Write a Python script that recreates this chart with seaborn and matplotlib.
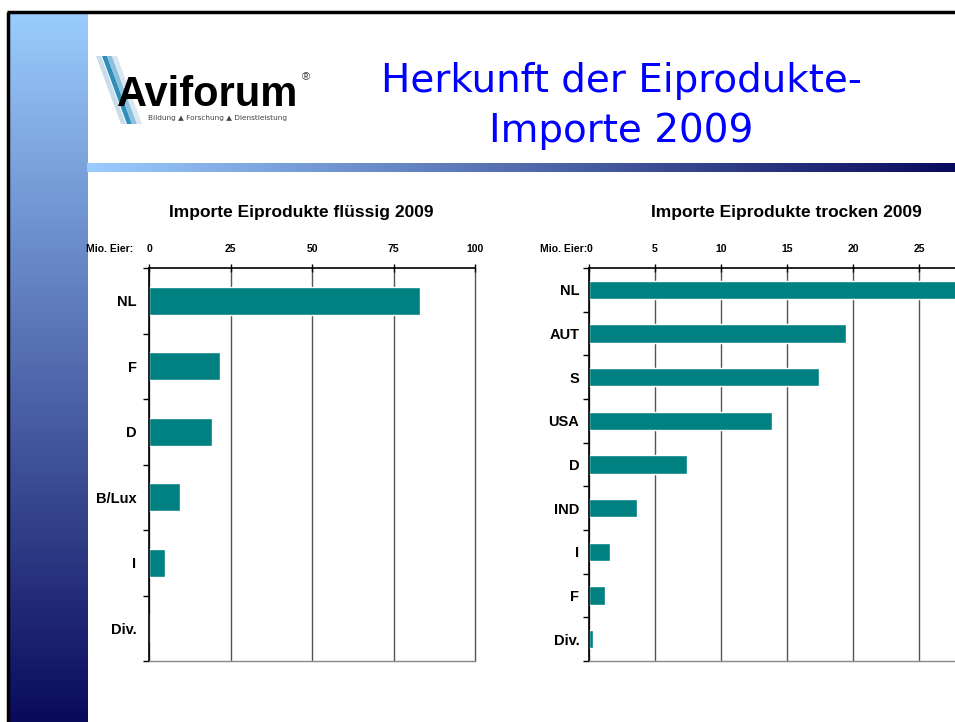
import matplotlib
matplotlib.use("Agg")
import matplotlib.pyplot as plt
import numpy as np
import seaborn as sns
from matplotlib.colors import LinearSegmentedColormap
from matplotlib.ticker import FixedLocator

# data (Mio. Eier)
cat_fluessig = ["NL", "F", "D", "B/Lux", "I", "Div."]
val_fluessig = [83, 21.8, 19.3, 9.5, 4.9, 0]
cat_trocken = ["NL", "AUT", "S", "USA", "D", "IND", "I", "F", "Div."]
val_trocken = [29, 19.5, 17.4, 13.9, 7.4, 3.6, 1.6, 1.2, 0.3]
ticks_fluessig = [0, 25, 50, 75, 100]
ticks_trocken = [0, 5, 10, 15, 20, 25]

teal = "#008080"
W, H = 955, 722

sns.set_theme(style="white")
plt.rcParams["font.family"] = ["Liberation Sans", "DejaVu Sans"]

fig = plt.figure(figsize=(W / 100, H / 100), dpi=100)

# slide background in pixel coords
bg = fig.add_axes([0, 0, 1, 1], zorder=-1)
cmap = LinearSegmentedColormap.from_list("slide", ["#9ACCFF", "#0A0A5C"])
bg.imshow(np.linspace(0, 1, 256).reshape(-1, 1), cmap=cmap, aspect="auto",
          extent=[9, 87, H, 13], origin="upper")
bg.imshow(np.linspace(0, 1, 256).reshape(1, -1), cmap=cmap, aspect="auto",
          extent=[87, W, 172, 163], origin="upper")
bg.plot([7, W], [12, 12], color="black", lw=2.5, solid_capstyle="butt")
bg.plot([8, 8], [12, H], color="black", lw=2.5, solid_capstyle="butt")
bg.set_xlim(0, W)
bg.set_ylim(H, 0)
bg.axis("off")

# logo
for dx, c in zip([0, 6, 11, 16], ["#c9dcea", "#2f8fb8", "#8cc0dc", "#dbe7f0"]):
    x0 = 96 + dx
    bg.fill([x0, x0 + 5, x0 + 30, x0 + 25], [56, 56, 124, 124], color=c, lw=0)
bg.text(117, 106, "Aviforum", fontsize=30, fontweight="bold", color="black")
bg.text(302, 80, "®", fontsize=8, color="#333333")
bg.text(148, 120, "Bildung ▲ Forschung ▲ Dienstleistung", fontsize=5.3,
        color="#444444", family=["DejaVu Sans"])

# slide title
bg.text(621, 92, "Herkunft der Eiprodukte-", fontsize=28, color="#0000FF",
        ha="center", family=["DejaVu Sans"])
bg.text(621, 142, "Importe 2009", fontsize=28, color="#0000FF",
        ha="center", family=["DejaVu Sans"])

# chart titles and unit labels
bg.text(301, 213, "Importe Eiprodukte flüssig 2009", fontsize=12.5,
        fontweight="bold", ha="center", va="center", color="black")
bg.text(786, 213, "Importe Eiprodukte trocken 2009", fontsize=12.5,
        fontweight="bold", ha="center", va="center", color="black")
bg.text(133, 249, "Mio. Eier:", fontsize=7.5, fontweight="bold", ha="right",
        va="center", color="black")
bg.text(587, 249, "Mio. Eier:", fontsize=7.5, fontweight="bold", ha="right",
        va="center", color="black")


def style_bar_axis(ax, cats, ticks, xmax, ypad):
    ax.set_xlim(0, xmax)
    ax.set_ylim(len(cats) - 0.5, -0.5)
    ax.xaxis.tick_top()
    ax.set_xticks(ticks)
    ax.set_xticklabels([str(t) for t in ticks], fontsize=7.5, fontweight="bold")
    ax.tick_params(axis="x", direction="inout", length=6, width=1, pad=7,
                   colors="black")
    ax.yaxis.set_minor_locator(FixedLocator(np.arange(-0.5, len(cats), 1)))
    ax.tick_params(axis="y", which="major", length=0, pad=ypad, labelsize=10.5,
                   labelcolor="black")
    ax.tick_params(axis="y", which="minor", direction="out", length=4, width=1,
                   left=True, color="black")
    for lbl in ax.get_yticklabels():
        lbl.set_fontweight("bold")
    ax.set_xlabel("")
    ax.set_ylabel("")
    ax.xaxis.grid(True, color="#555555", lw=1)
    for gl in ax.get_xgridlines():
        gl.set_clip_on(False)
    ax.set_axisbelow(True)
    ax.spines["right"].set_visible(False)
    ax.spines["top"].set_color("black")
    ax.spines["top"].set_linewidth(1.2)
    ax.spines["left"].set_color("black")
    ax.spines["left"].set_linewidth(1.2)
    ax.spines["bottom"].set_color("#888888")
    ax.spines["bottom"].set_linewidth(1)


# left chart
ax1 = fig.add_axes([149 / W, (H - 661) / H, 326 / W, 393 / H])
sns.barplot(x=val_fluessig, y=cat_fluessig, orient="h", color=teal,
            saturation=1, width=0.42, ax=ax1)
style_bar_axis(ax1, cat_fluessig, ticks_fluessig, 100, 9)

# right chart (runs past the slide edge, axis goes to 30)
ax2 = fig.add_axes([589 / W, (H - 661) / H, 396 / W, 393 / H])
sns.barplot(x=val_trocken, y=cat_trocken, orient="h", color=teal,
            saturation=1, width=0.42, ax=ax2)
style_bar_axis(ax2, cat_trocken, ticks_trocken, 30, 7)

fig.savefig("out.png", dpi=100)
